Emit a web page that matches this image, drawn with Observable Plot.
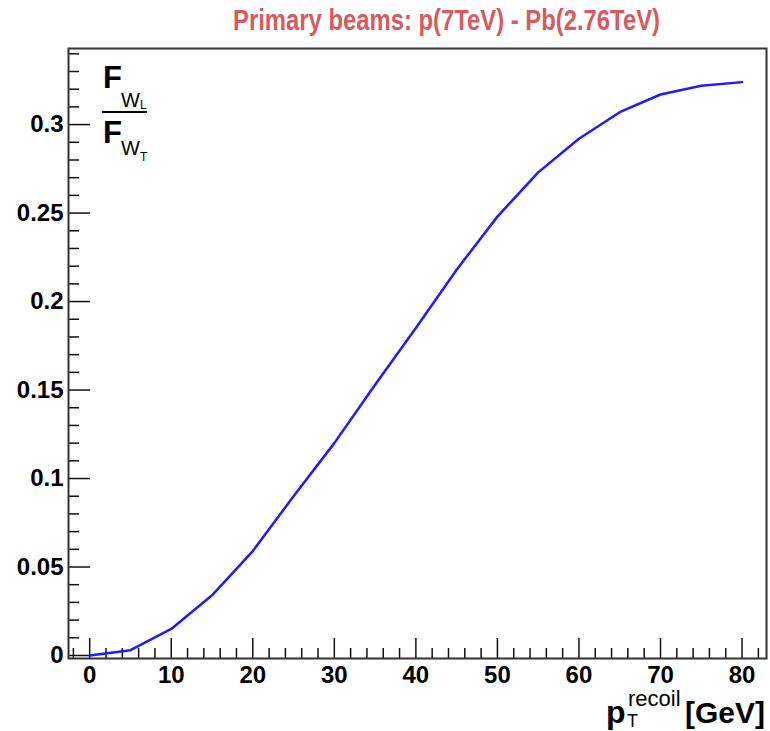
<!DOCTYPE html>
<html>
<head>
<meta charset="utf-8">
<script src="https://cdn.jsdelivr.net/npm/d3@7"></script>
<script src="https://cdn.jsdelivr.net/npm/@observablehq/plot@0.6"></script>
<style>
  html, body { margin: 0; padding: 0; background: white; }
  #wrap { width: 770px; height: 731px; position: relative; overflow: hidden; }
  #title { position: relative; width: 770px; height: 44px; }
  #title span { position: absolute; left: 446px; top: 3px; white-space: nowrap;
    font-family: 'Liberation Sans', Arial, sans-serif; font-weight: bold; font-size: 30px;
    color: #d35c60; transform-origin: 0 0; }
  svg { display: block; }
</style>
</head>
<body>
<div id="wrap">
  <div id="title"><span id="tspan">Primary beams: p(7TeV) - Pb(2.76TeV)</span></div>
  <div id="chart"></div>
</div>
<script>
// ---- data ----
const ptRecoil = [0, 5, 10, 15, 20, 25, 30, 35, 40, 45, 50, 55, 60, 65, 70, 75, 80];
const ratioFWL_FWT = [0, 0.003, 0.015, 0.034, 0.059, 0.09, 0.12, 0.153, 0.185, 0.218, 0.248, 0.273, 0.292, 0.307, 0.317, 0.322, 0.324];

const xMajorTicks = [0, 10, 20, 30, 40, 50, 60, 70, 80];
const xTickLabels = ["0", "10", "20", "30", "40", "50", "60", "70", "80"];
const xMinorTicks = [-2, 2, 4, 6, 8, 12, 14, 16, 18, 22, 24, 26, 28, 32, 34, 36, 38, 42, 44, 46, 48, 52, 54, 56, 58, 62, 64, 66, 68, 72, 74, 76, 78, 82];
const yMajorTicks = [0, 0.05, 0.1, 0.15, 0.2, 0.25, 0.3];
const yTickLabels = ["0", "0.05", "0.1", "0.15", "0.2", "0.25", "0.3"];
const yMinorTicks = [0.01, 0.02, 0.03, 0.04, 0.06, 0.07, 0.08, 0.09, 0.11, 0.12, 0.13, 0.14, 0.16, 0.17, 0.18, 0.19, 0.21, 0.22, 0.23, 0.24, 0.26, 0.27, 0.28, 0.29, 0.31, 0.32, 0.33, 0.34];

const titleText = "Primary beams: p(7TeV) - Pb(2.76TeV)";

const data = ptRecoil.map((x, i) => ({x, y: ratioFWL_FWT[i]}));

// ---- layout ----
const W = 770, H = 687;
const mL = 68, mR = 4, mT = 4, mB = 73;
const frameW = W - mL - mR, frameH = H - mT - mB;

const plot = Plot.plot({
  width: W, height: H,
  marginLeft: mL, marginRight: mR, marginTop: mT, marginBottom: mB,
  x: {domain: [-2.6, 83.0]},
  y: {domain: [-0.0017, 0.343]},
  style: {fontFamily: "'Liberation Sans', Arial, sans-serif", fontSize: "24px", fontWeight: "bold", color: "black", background: "white", overflow: "visible"},
  marks: [
    Plot.tickY(yMinorTicks, {y: d => d, insetRight: frameW - 11, stroke: "#111", strokeWidth: 1.5}),
    Plot.tickY(yMajorTicks, {y: d => d, insetRight: frameW - 22, stroke: "#111", strokeWidth: 1.5}),
    Plot.tickX(xMinorTicks, {x: d => d, insetTop: frameH - 10, stroke: "#111", strokeWidth: 1.5}),
    Plot.tickX(xMajorTicks, {x: d => d, insetTop: frameH - 20, stroke: "#111", strokeWidth: 1.5}),
    Plot.axisY(yMajorTicks, {tickSize: 0, tickPadding: 5, label: null, fontSize: 24,
      tickFormat: d => yTickLabels[yMajorTicks.indexOf(d)]}),
    Plot.axisX(xMajorTicks, {tickSize: 0, tickPadding: 7, label: null, fontSize: 24,
      tickFormat: d => xTickLabels[xMajorTicks.indexOf(d)]}),
    Plot.line(data, {x: "x", y: "y", stroke: "#1c1cff", strokeWidth: 2.5}),
    Plot.frame({stroke: "#333", strokeWidth: 2})
  ]
});
document.getElementById("chart").appendChild(plot);

// ---- annotations (axis titles) ----
const svg = d3.select(plot);
const g = svg.append("g")
  .attr("font-family", "'Liberation Sans', Arial, sans-serif")
  .attr("fill", "black")
  .attr("text-anchor", "start");

// y title: fraction F_{W_L} / F_{W_T}
g.append("text").attr("x", 103).attr("y", 44).attr("font-size", 31).attr("font-weight", "bold").text("F");
g.append("text").attr("x", 121).attr("y", 63).attr("font-size", 20).attr("font-weight", "normal").text("W");
g.append("text").attr("x", 140).attr("y", 65).attr("font-size", 12).attr("font-weight", "normal").text("L");
g.append("line").attr("x1", 102).attr("x2", 147).attr("y1", 68).attr("y2", 68).attr("stroke", "black").attr("stroke-width", 2);
g.append("text").attr("x", 103).attr("y", 99).attr("font-size", 31).attr("font-weight", "bold").text("F");
g.append("text").attr("x", 121).attr("y", 111).attr("font-size", 20).attr("font-weight", "normal").text("W");
g.append("text").attr("x", 140).attr("y", 117).attr("font-size", 12).attr("font-weight", "normal").text("T");

// x title: p_T^{recoil} [GeV]
g.append("text").attr("x", 606).attr("y", 679).attr("font-size", 32).attr("font-weight", "bold").text("p");
g.append("text").attr("x", 628).attr("y", 662).attr("font-size", 22).attr("font-weight", "normal").text("recoil");
g.append("text").attr("x", 627).attr("y", 683).attr("font-size", 18).attr("font-weight", "normal").text("T");
g.append("text").attr("x", 765).attr("y", 679).attr("font-size", 30).attr("font-weight", "bold").attr("text-anchor", "end").text("[GeV]");

// ---- title scaling ----
const ts = document.getElementById("tspan");
ts.textContent = titleText;
const tw = ts.getBoundingClientRect().width;
const target = 427;
const s = target / tw;
ts.style.left = (446 - target / 2) + "px";
ts.style.transform = `scaleX(${s})`;
</script>
</body>
</html>
